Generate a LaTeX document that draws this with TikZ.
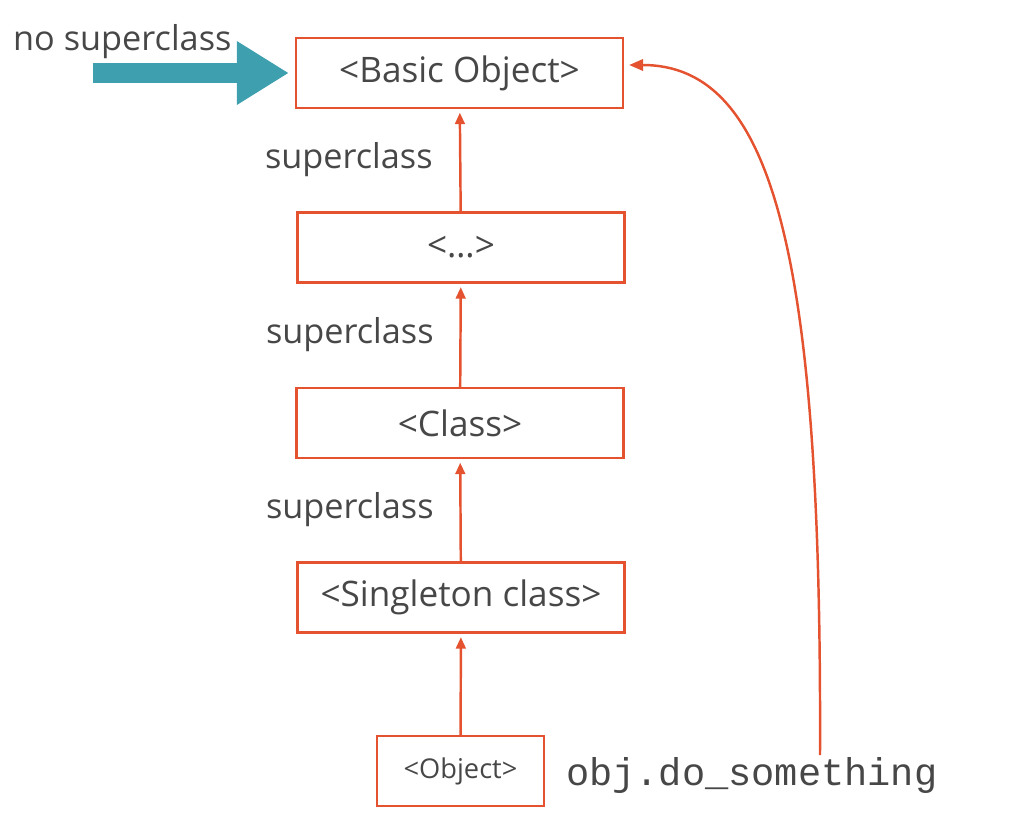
\documentclass[tikz,border=0pt]{standalone}
\usepackage{fontspec}
\setmainfont{Open Sans}
\setmonofont{Liberation Mono}
\usetikzlibrary{arrows.meta}
\definecolor{linkred}{HTML}{E4522F}
\definecolor{noteteal}{HTML}{3E9FAF}
\definecolor{textgray}{HTML}{474747}
\begin{document}
\begin{tikzpicture}[x = 0.02cm, y = -0.02cm,
		classbox/.style = {draw = linkred, line width = 1.3pt, minimum width = 6.54cm, minimum height = 1.4cm, inner sep = 0pt, text = textgray, font = \fontsize{20}{24}\selectfont},
		suplabel/.style = {text = textgray, font = \fontsize{19.5}{23}\selectfont, anchor = east, inner sep = 0pt},
		uparrow/.style = {linkred, line width = 1.4pt, -{Triangle[length = 6.5pt, width = 5.5pt]}, shorten > = 2pt}]
		\useasboundingbox (0,0) rectangle (1009,823);
		%
		\node[classbox] (basic) at (459.5,73) {<Basic Object>};
		\node[classbox] (dots) at (461,247.5) {<\ldots>};
		\node[classbox] (klass) at (460,423) {<Class>};
		\node[classbox] (single) at (461,597.5) {<Singleton class>};
		\node[classbox, minimum width = 3.34cm, font = \fontsize{15.5}{18}\selectfont] (obj) at (460.5,771) {<Object>};
		%
		\draw[uparrow] (obj) -- (single);
		\draw[uparrow] (single) -- (klass);
		\draw[uparrow] (klass) -- (dots);
		\draw[uparrow] (dots) -- (basic);
		%
		\node[suplabel] (sup1) at (433,160) {superclass};
		\node[suplabel] (sup2) at (434,335) {superclass};
		\node[suplabel] (sup3) at (434,510) {superclass};
		%
		\node[text = textgray, font = \fontsize{19.5}{23}\selectfont, anchor = west] (nosup) at (7,42) {no superclass};
		\coordinate (tail) at (93,73);
		\draw[noteteal, line width = 0.4cm, -{Triangle[length = 1.04cm, width = 1.2cm]}] (tail) -- ([xshift = -0.12cm]basic.west);
		%
		\node[text = textgray, font = \ttfamily\fontsize{22}{26}\selectfont, anchor = west] (call) at (560,775) {obj.do\_something};
		\coordinate (callend) at (820,755);
		\draw[linkred, line width = 1.4pt, -{Triangle[length = 8pt, width = 6.5pt]}] (callend) .. controls (822,260) and (775,65) .. ([xshift = 0.1cm, yshift = 0.16cm]basic.east);
		%
	\end{tikzpicture}
\end{document}
